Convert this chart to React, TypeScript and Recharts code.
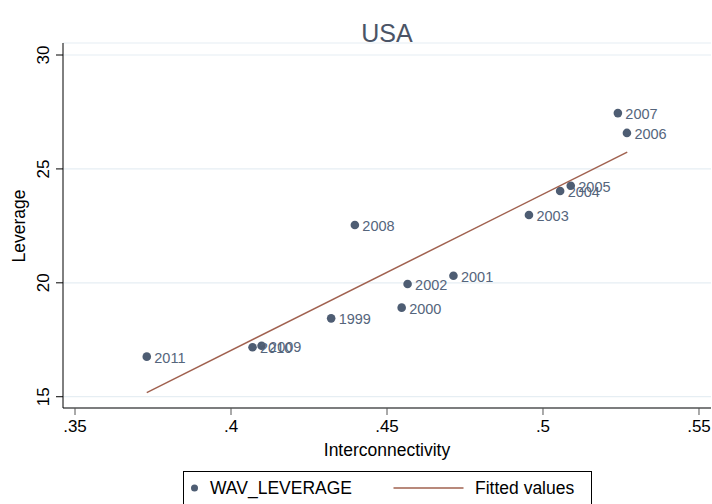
import { CartesianGrid, Legend, Scatter, ScatterChart, XAxis, YAxis } from 'recharts'

const YEARS = [1999, 2000, 2001, 2002, 2003, 2004, 2005, 2006, 2007, 2008, 2009, 2010, 2011]
const INTERCONNECTIVITY = [0.4321, 0.4547, 0.4713, 0.4566, 0.4955, 0.5055, 0.5089, 0.5269, 0.524, 0.4397, 0.4098, 0.4069, 0.373]
const LEVERAGE = [18.44, 18.91, 20.31, 19.95, 22.98, 24.03, 24.26, 26.58, 27.45, 22.54, 17.24, 17.17, 16.76]

// fitted line endpoints
const FIT_X = [0.373, 0.527]
const FIT_Y = [15.18, 25.74]

const X_TICKS = [0.35, 0.4, 0.45, 0.5, 0.55]
const Y_TICKS = [15, 20, 25, 30]

const FONT = '"Liberation Sans", Arial, Helvetica, sans-serif'
const DOT_COLOR = '#4e5d73'
const LABEL_COLOR = '#55657c'
const FIT_COLOR = '#a0614f'

const points = YEARS.map((year, i) => ({ year, x: INTERCONNECTIVITY[i], y: LEVERAGE[i] }))
const fitted = FIT_X.map((x, i) => ({ x, y: FIT_Y[i] }))

const fmtX = (v: number) => String(v).replace(/^0/, '')

function PointShape(props: any) {
  const { cx, cy, payload } = props
  return (
    <g>
      <circle cx={cx} cy={cy} r={4.3} fill={DOT_COLOR} />
      <text x={cx + 7.5} y={cy + 1} dominantBaseline="central" fontSize={14.5} fill={LABEL_COLOR} fontFamily={FONT}>
        {payload.year}
      </text>
    </g>
  )
}

function YTick(props: any) {
  const { x, y, payload } = props
  const tx = x - 10
  return (
    <text
      x={tx}
      y={y}
      transform={`rotate(-90, ${tx}, ${y})`}
      textAnchor="middle"
      dominantBaseline="central"
      fontSize={17}
      fill="#000"
      fontFamily={FONT}
    >
      {payload.value}
    </text>
  )
}

function LegendBox() {
  return (
    <div style={{ width: 409, height: 40, border: '1px solid #000', boxSizing: 'border-box', background: '#fff' }}>
      <svg width={409} height={40} style={{ display: 'block', marginLeft: -1, marginTop: -1 }}>
        <circle cx={11.5} cy={17} r={3.5} fill={DOT_COLOR} />
        <text x={27} y={23} fontSize={17.5} fontFamily={FONT} fill="#000">
          WAV_LEVERAGE
        </text>
        <line x1={210.5} x2={280.5} y1={17} y2={17} stroke={FIT_COLOR} strokeWidth={2} strokeOpacity={0.75} />
        <text x={292} y={23} fontSize={17.5} fontFamily={FONT} fill="#000">
          Fitted values
        </text>
      </svg>
    </div>
  )
}

export default function App() {
  return (
    <div style={{ position: 'absolute', left: 0, top: 0, width: 712, height: 504, overflow: 'hidden', background: '#fff' }}>
      <ScatterChart width={712} height={504} margin={{ top: 43, right: 1, bottom: 0, left: 0 }}>
        <CartesianGrid vertical={false} stroke="#e6eef3" strokeWidth={1.2} />
        <XAxis
          type="number"
          dataKey="x"
          domain={[0.34615, 0.55385]}
          allowDataOverflow
          ticks={X_TICKS}
          tickFormatter={fmtX}
          height={96}
          tickSize={7}
          tickMargin={5}
          axisLine={{ stroke: '#555', strokeWidth: 1.6 }}
          tickLine={{ stroke: '#555' }}
          tick={{ fill: '#000', fontSize: 17, fontFamily: FONT }}
        />
        <YAxis
          type="number"
          dataKey="y"
          domain={[14.505, 30.527]}
          allowDataOverflow
          ticks={Y_TICKS}
          width={63}
          tickSize={7}
          axisLine={{ stroke: '#000' }}
          tickLine={{ stroke: '#000' }}
          tick={<YTick />}
        />
        <Scatter data={points} shape={<PointShape />} isAnimationActive={false} />
        <Scatter
          data={fitted}
          line={{ stroke: FIT_COLOR, strokeWidth: 1.5 }}
          shape={() => <g />}
          isAnimationActive={false}
        />
        <Legend
          layout="horizontal"
          verticalAlign="middle"
          align="center"
          wrapperStyle={{ top: 471, left: 183, width: 409, height: 40 }}
          content={() => <LegendBox />}
        />
        <text x={387} y={42} textAnchor="middle" fontSize={25} fill="#4b5466" fontFamily={FONT}>
          USA
        </text>
        <text x={387} y={456} textAnchor="middle" fontSize={17.5} fill="#000" fontFamily={FONT}>
          Interconnectivity
        </text>
        <text
          x={25}
          y={226}
          transform="rotate(-90, 25, 226)"
          textAnchor="middle"
          fontSize={17.5}
          fill="#000"
          fontFamily={FONT}
        >
          Leverage
        </text>
      </ScatterChart>
    </div>
  )
}
